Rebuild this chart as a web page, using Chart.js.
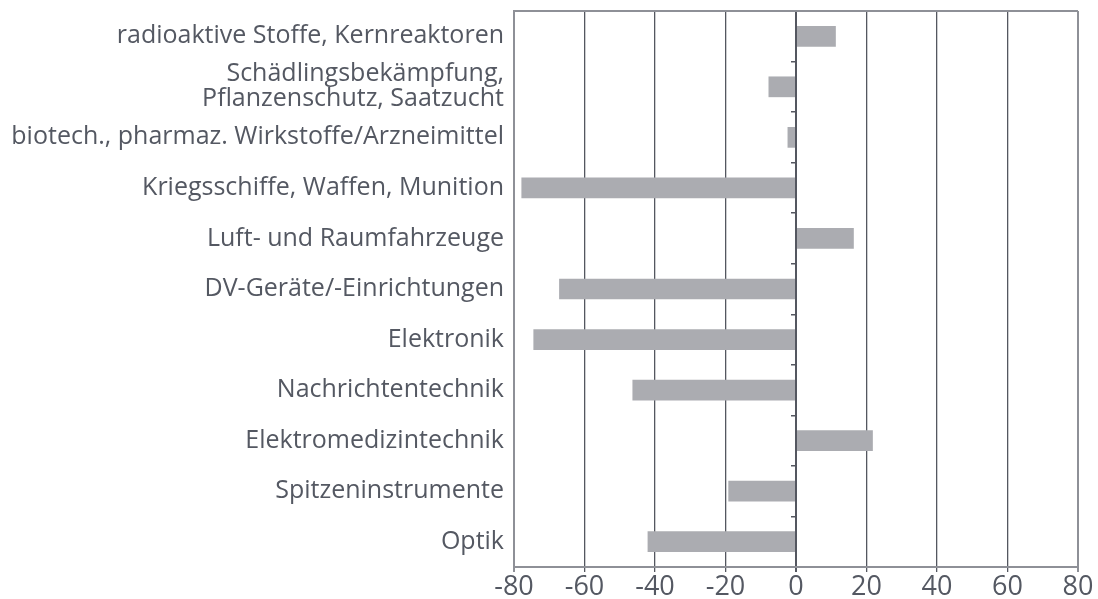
<!DOCTYPE html>
<html>
<head>
<meta charset="utf-8">
<script src="https://cdn.jsdelivr.net/npm/chart.js@4/dist/chart.umd.min.js"></script>
<style>
  html, body { margin: 0; padding: 0; background: #fff; }
  #wrap { width: 1098px; height: 599px; position: relative; }
</style>
</head>
<body>
<div id="wrap"><canvas id="grafica"></canvas></div>
<script>
const categorias = [
  'radioaktive Stoffe, Kernreaktoren',
  ['Schädlingsbekämpfung,', 'Pflanzenschutz, Saatzucht'],
  'biotech., pharmaz. Wirkstoffe/Arzneimittel',
  'Kriegsschiffe, Waffen, Munition',
  'Luft- und Raumfahrzeuge',
  'DV-Geräte/-Einrichtungen',
  'Elektronik',
  'Nachrichtentechnik',
  'Elektromedizintechnik',
  'Spitzeninstrumente',
  'Optik'
];
const valores = [11.3, -7.8, -2.4, -77.9, 16.4, -67.2, -74.5, -46.4, 21.8, -19.2, -42.1];
const ejeMin = -80;
const ejeMax = 80;
const ejePaso = 20;

const textoColor = '#545862';
const marcoColor = '#8e9097';
const rejillaColor = '#545760';

// top border of the plot frame
const marco = {
  id: 'marco',
  afterDraw(chart) {
    const { ctx, chartArea } = chart;
    ctx.save();
    ctx.strokeStyle = marcoColor;
    ctx.lineWidth = 2;
    ctx.beginPath();
    ctx.moveTo(chartArea.left, chartArea.top);
    ctx.lineTo(chartArea.right, chartArea.top);
    ctx.stroke();
    ctx.restore();
  }
};

new Chart(document.getElementById('grafica'), {
  type: 'bar',
  data: {
    labels: categorias,
    datasets: [{
      data: valores,
      backgroundColor: '#abacb1',
      borderWidth: 0,
      categoryPercentage: 1,
      barPercentage: 0.41
    }]
  },
  options: {
    indexAxis: 'y',
    responsive: true,
    maintainAspectRatio: false,
    animation: false,
    layout: { padding: { top: 11, right: 20, left: 0, bottom: 0 } },
    plugins: { legend: { display: false }, tooltip: { enabled: false } },
    scales: {
      x: {
        min: ejeMin,
        max: ejeMax,
        ticks: {
          stepSize: ejePaso,
          color: textoColor,
          font: { family: 'Open Sans', size: 27, lineHeight: 1.1 },
          padding: 0
        },
        grid: {
          color: (c) => (c.tick && Math.abs(c.tick.value) === 80) ? marcoColor : rejillaColor,
          lineWidth: (c) => (c.tick && (c.tick.value === 0 || Math.abs(c.tick.value) === 80)) ? 2 : 1.3,
          tickLength: 5
        },
        border: { color: marcoColor, width: 2 },
        afterFit: (s) => { s.height = 32; s.paddingLeft = 0; s.paddingRight = 0; }
      },
      y: {
        ticks: {
          autoSkip: false,
          color: textoColor,
          font: { family: 'Open Sans', size: 25, lineHeight: 1.0 },
          padding: 10
        },
        grid: { drawOnChartArea: false, drawTicks: false },
        border: { color: marcoColor, width: 2 },
        afterFit: (s) => { s.width = 514; s.paddingTop = 0; s.paddingBottom = 0; }
      },
      y2: {
        type: 'category',
        axis: 'y',
        position: { x: 0 },
        offset: true,
        ticks: { display: false, autoSkip: false },
        grid: { offset: true, drawOnChartArea: false, tickLength: 5, color: rejillaColor, lineWidth: 1.5 },
        border: { display: false }
      }
    }
  },
  plugins: [marco]
});
</script>
</body>
</html>
